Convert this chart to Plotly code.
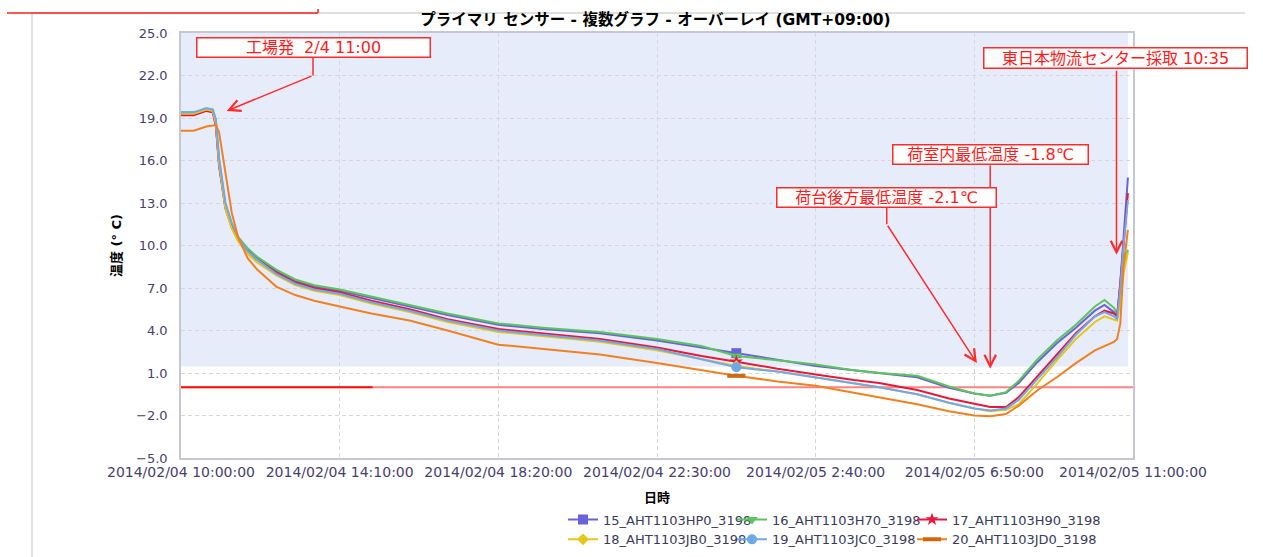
import plotly.graph_objects as go

# ---- data -------------------------------------------------------------
TIMES = [
    "2014-02-04 10:00", "2014-02-04 10:20", "2014-02-04 10:40", "2014-02-04 10:50",
    "2014-02-04 10:55", "2014-02-04 11:00", "2014-02-04 11:10", "2014-02-04 11:20",
    "2014-02-04 11:30", "2014-02-04 11:45", "2014-02-04 12:00", "2014-02-04 12:30",
    "2014-02-04 13:00", "2014-02-04 13:30", "2014-02-04 14:10", "2014-02-04 15:00",
    "2014-02-04 16:00", "2014-02-04 17:00", "2014-02-04 18:20", "2014-02-04 19:30",
    "2014-02-04 21:00", "2014-02-04 22:30", "2014-02-04 23:40", "2014-02-05 00:35",
    "2014-02-05 01:40", "2014-02-05 02:40", "2014-02-05 03:40", "2014-02-05 04:20",
    "2014-02-05 05:20", "2014-02-05 06:10", "2014-02-05 06:50", "2014-02-05 07:15",
    "2014-02-05 07:40", "2014-02-05 08:00", "2014-02-05 08:30", "2014-02-05 09:00",
    "2014-02-05 09:30", "2014-02-05 10:00", "2014-02-05 10:15", "2014-02-05 10:30",
    "2014-02-05 10:35", "2014-02-05 10:40", "2014-02-05 10:45", "2014-02-05 10:52",
]

S15 = [19.3, 19.3, 19.6, 19.5, 18.5, 15.6, 12.6, 11.3, 10.5, 9.7, 9.1, 8.2, 7.5, 7.1,
       6.8, 6.3, 5.7, 5.1, 4.4, 4.1, 3.8, 3.3, 2.8, 2.4, 1.9, 1.5, 1.2, 1.0, 0.7, -0.05,
       -0.45, -0.6, -0.4, 0.3, 1.8, 3.1, 4.2, 5.4, 5.8, 5.3, 5.0, 7.4, 10.5, 14.8]
S16 = [19.4, 19.4, 19.6, 19.6, 18.8, 16.0, 12.9, 11.5, 10.6, 9.8, 9.2, 8.3, 7.6, 7.2,
       6.9, 6.4, 5.8, 5.2, 4.5, 4.2, 3.9, 3.4, 2.9, 2.2, 1.9, 1.6, 1.2, 1.0, 0.8, 0.05,
       -0.45, -0.6, -0.35, 0.45, 2.0, 3.3, 4.4, 5.7, 6.15, 5.6, 5.2, 6.5, 8.5, 9.7]
S17 = [19.2, 19.2, 19.5, 19.4, 18.4, 15.7, 12.7, 11.3, 10.4, 9.6, 9.0, 8.1, 7.4, 7.0,
       6.7, 6.1, 5.5, 4.8, 4.1, 3.8, 3.4, 2.8, 2.2, 1.8, 1.3, 0.9, 0.5, 0.3, -0.2, -0.8,
       -1.2, -1.4, -1.4, -0.7, 0.8, 2.3, 3.8, 5.0, 5.4, 5.2, 5.0, 7.3, 10.2, 13.7]
S18 = [19.3, 19.3, 19.6, 19.5, 18.6, 15.8, 12.6, 11.2, 10.3, 9.4, 8.8, 7.9, 7.2, 6.8,
       6.5, 5.9, 5.3, 4.6, 3.9, 3.6, 3.2, 2.6, 2.0, 1.5, 1.1, 0.7, 0.3, 0.0, -0.5, -1.1,
       -1.5, -1.7, -1.6, -1.2, 0.3, 1.9, 3.4, 4.6, 5.0, 4.8, 4.7, 6.0, 8.0, 9.5]
S19 = [19.4, 19.4, 19.7, 19.6, 18.9, 16.2, 13.0, 11.6, 10.6, 9.6, 9.0, 8.0, 7.3, 6.9,
       6.6, 6.0, 5.4, 4.7, 4.0, 3.7, 3.3, 2.7, 2.0, 1.4, 1.1, 0.7, 0.3, 0.0, -0.5, -1.1,
       -1.5, -1.65, -1.5, -0.9, 0.6, 2.1, 3.7, 5.0, 5.3, 5.0, 4.8, 7.0, 10.0, 13.2]
S20 = [18.1, 18.1, 18.4, 18.5, 18.5, 18.0, 15.1, 12.3, 10.6, 9.1, 8.3, 7.1, 6.5, 6.1,
       5.7, 5.2, 4.7, 4.0, 3.0, 2.7, 2.3, 1.7, 1.2, 0.8, 0.4, 0.1, -0.4, -0.7, -1.2, -1.7,
       -2.0, -2.05, -1.9, -1.3, -0.2, 0.7, 1.7, 2.6, 2.9, 3.2, 3.4, 4.5, 8.5, 11.1]

SERIES_NAMES = ["15_AHT1103HP0_3198", "16_AHT1103H70_3198", "17_AHT1103H90_3198",
                "18_AHT1103JB0_3198", "19_AHT1103JC0_3198", "20_AHT1103JD0_3198"]
SERIES_VALUES = [S15, S16, S17, S18, S19, S20]

TICK_TIMES = ["2014-02-04 10:00", "2014-02-04 14:10", "2014-02-04 18:20",
              "2014-02-04 22:30", "2014-02-05 02:40", "2014-02-05 06:50",
              "2014-02-05 11:00"]
TICK_TEXT = ["2014/02/04 10:00:00", "2014/02/04 14:10:00", "2014/02/04 18:20:00",
             "2014/02/04 22:30:00", "2014/02/05 2:40:00", "2014/02/05 6:50:00",
             "2014/02/05 11:00:00"]

MARKER_TIME = "2014-02-05 00:35"

# ---- styles -----------------------------------------------------------
COLORS = ["#6A62D8", "#5CC45C", "#E8173C", "#E6C619", "#6FA8E8", "#F08020"]
SYMBOLS = ["square", "triangle-down", "star", "diamond", "circle", "line-ew"]
MSIZES = [10, 10, 10, 9, 10, 13]
# legend columns: 15/18, 16/19, 17/20
LEGENDS = ["legend", "legend2", "legend3", "legend", "legend2", "legend3"]

FONT = "DejaVu Sans, Noto Sans CJK JP, sans-serif"
TICK_COLOR = "#46406E"
RED = "#FF2A2A"

fig = go.Figure()

mi = TIMES.index(MARKER_TIME)
for name, vals, col, sym, ms, lg in zip(SERIES_NAMES, SERIES_VALUES, COLORS,
                                        SYMBOLS, MSIZES, LEGENDS):
    fig.add_trace(go.Scatter(
        x=TIMES, y=vals, mode="lines", name=name, legendgroup=name,
        showlegend=False, line=dict(color=col, width=2), hoverinfo="skip",
    ))
    marker = dict(symbol=sym, size=ms, color=col)
    if sym == "line-ew":
        marker.update(line=dict(color="#D06810", width=4))
    fig.add_trace(go.Scatter(
        x=[TIMES[mi]], y=[vals[mi]], mode="lines+markers", name=name,
        legendgroup=name, legend=lg, line=dict(color=col, width=2), marker=marker,
    ))

# shaded band and zero reference line
shapes = [
    dict(type="rect", xref="x", yref="y", x0=TIMES[0], x1=TIMES[-1], y0=1.45, y1=25,
         fillcolor="#E7ECFB", line=dict(width=0), layer="below"),
    dict(type="line", xref="x", yref="y", x0=TICK_TIMES[0], x1=TICK_TIMES[-1], y0=0, y1=0,
         line=dict(color="rgba(255,90,90,0.75)", width=2), layer="between"),
    dict(type="line", xref="x", yref="y", x0=TICK_TIMES[0], x1="2014-02-04 15:02", y0=0, y1=0,
         line=dict(color="#FF1010", width=2), layer="between"),
]

# page frame decoration (paper coordinates outside the plot area)
PW, PH, L, B = 952.0, 425.0, 181.0, 458.0
def px(xp):
    return (xp - L) / PW
def py(yp):
    return (B - yp) / PH

shapes += [
    dict(type="line", xref="paper", yref="paper", x0=px(32), x1=px(32), y0=py(13), y1=py(557),
         line=dict(color="#D4D4D4", width=1.5)),
    dict(type="line", xref="paper", yref="paper", x0=px(32), x1=px(1245), y0=py(13), y1=py(13),
         line=dict(color="#D4D4D4", width=1.5)),
    dict(type="line", xref="paper", yref="paper", x0=px(7), x1=px(318), y0=py(13), y1=py(13),
         line=dict(color="#FF2020", width=1.5)),
    dict(type="line", xref="paper", yref="paper", x0=px(318), x1=px(318), y0=py(9), y1=py(13),
         line=dict(color="#FF2020", width=1.5)),
]

# callout leader segments
shapes += [
    dict(type="line", xref="x", yref="y", x0="2014-02-04 13:28", x1="2014-02-04 13:28",
         y0=23.3, y1=22.0, line=dict(color=RED, width=1.5)),
    dict(type="line", xref="x", yref="y", x0="2014-02-05 04:32", x1="2014-02-05 04:32",
         y0=12.7, y1=11.5, line=dict(color=RED, width=1.5)),
]

annotations = []
def box(text, x, y, w, h):
    annotations.append(dict(
        text=text, x=x, y=y, xref="x", yref="y", showarrow=False,
        width=w, height=h, align="center", valign="middle",
        font=dict(family=FONT, size=16, color="#FF1A1A"),
        bgcolor="white", bordercolor=RED, borderwidth=1.5, borderpad=0.5,
    ))

def arrow(x, y, ax, ay):
    annotations.append(dict(
        text="", x=x, y=y, ax=ax, ay=ay, xref="x", yref="y", axref="x", ayref="y",
        showarrow=True, arrowhead=5, arrowsize=1.5, arrowwidth=1.5, arrowcolor=RED,
    ))

box("工場発  2/4 11:00", "2014-02-04 13:28", 24.0, 231, 17)
arrow("2014-02-04 11:12", 19.5, "2014-02-04 13:28", 22.0)

box("東日本物流センター採取 10:35", "2014-02-05 10:32", 23.24, 261, 18)
arrow("2014-02-05 10:34", 9.35, "2014-02-05 10:34", 22.45)

box("荷室内最低温度 -1.8℃", "2014-02-05 07:15", 16.42, 193, 17)
arrow("2014-02-05 07:15", 1.3, "2014-02-05 07:15", 15.75)

box("荷台後方最低温度 -2.1℃", "2014-02-05 04:32", 13.39, 217, 17)
arrow("2014-02-05 06:54", 1.7, "2014-02-05 04:32", 11.5)

grid = dict(showgrid=True, gridcolor="#D6D6DC", griddash="4px,3px", gridwidth=1,
            showline=True, linecolor="#C4C8D2", linewidth=1.5, mirror=True,
            zeroline=False, ticks="", automargin=False)

def legend_col(x_px):
    # one legend per column, both coordinates in plot-area (paper) units
    return dict(orientation="v", xref="paper", yref="paper",
                x=px(x_px), y=py(529.5), xanchor="left", yanchor="middle",
                tracegroupgap=0, font=dict(family=FONT, size=13, color="#3A3A5A"),
                bgcolor="rgba(0,0,0,0)", itemclick=False, itemdoubleclick=False)

fig.update_layout(
    width=1263, height=557,
    margin=dict(l=181, r=130, t=33, b=99, autoexpand=False),
    paper_bgcolor="white", plot_bgcolor="white",
    title=dict(text="プライマリ センサー - 複数グラフ - オーバーレイ (GMT+09:00)",
               x=0.519, xref="container", xanchor="center",
               y=1 - 20 / 557, yref="container", yanchor="middle",
               font=dict(family=FONT, size=15.5, color="#000000", weight="bold")),
    xaxis=dict(type="date", range=[TICK_TIMES[0], TICK_TIMES[-1]],
               tickvals=TICK_TIMES, ticktext=TICK_TEXT,
               tickfont=dict(family=FONT, size=14, color=TICK_COLOR),
               title=dict(text="日時", standoff=14,
                          font=dict(family=FONT, size=13, color="#000", weight="bold")),
               **grid),
    yaxis=dict(range=[-5, 25], tick0=-5, dtick=3, tickformat=".1f",
               ticklabelstandoff=9,
               tickfont=dict(family=FONT, size=13, color=TICK_COLOR),
               title=dict(text="温度 (° C)", standoff=12,
                          font=dict(family=FONT, size=13, color="#000", weight="bold")),
               **grid),
    legend=legend_col(563),
    legend2=legend_col(732),
    legend3=legend_col(912),
    shapes=shapes,
    annotations=annotations,
    showlegend=True,
)

fig.write_html("out.html")
